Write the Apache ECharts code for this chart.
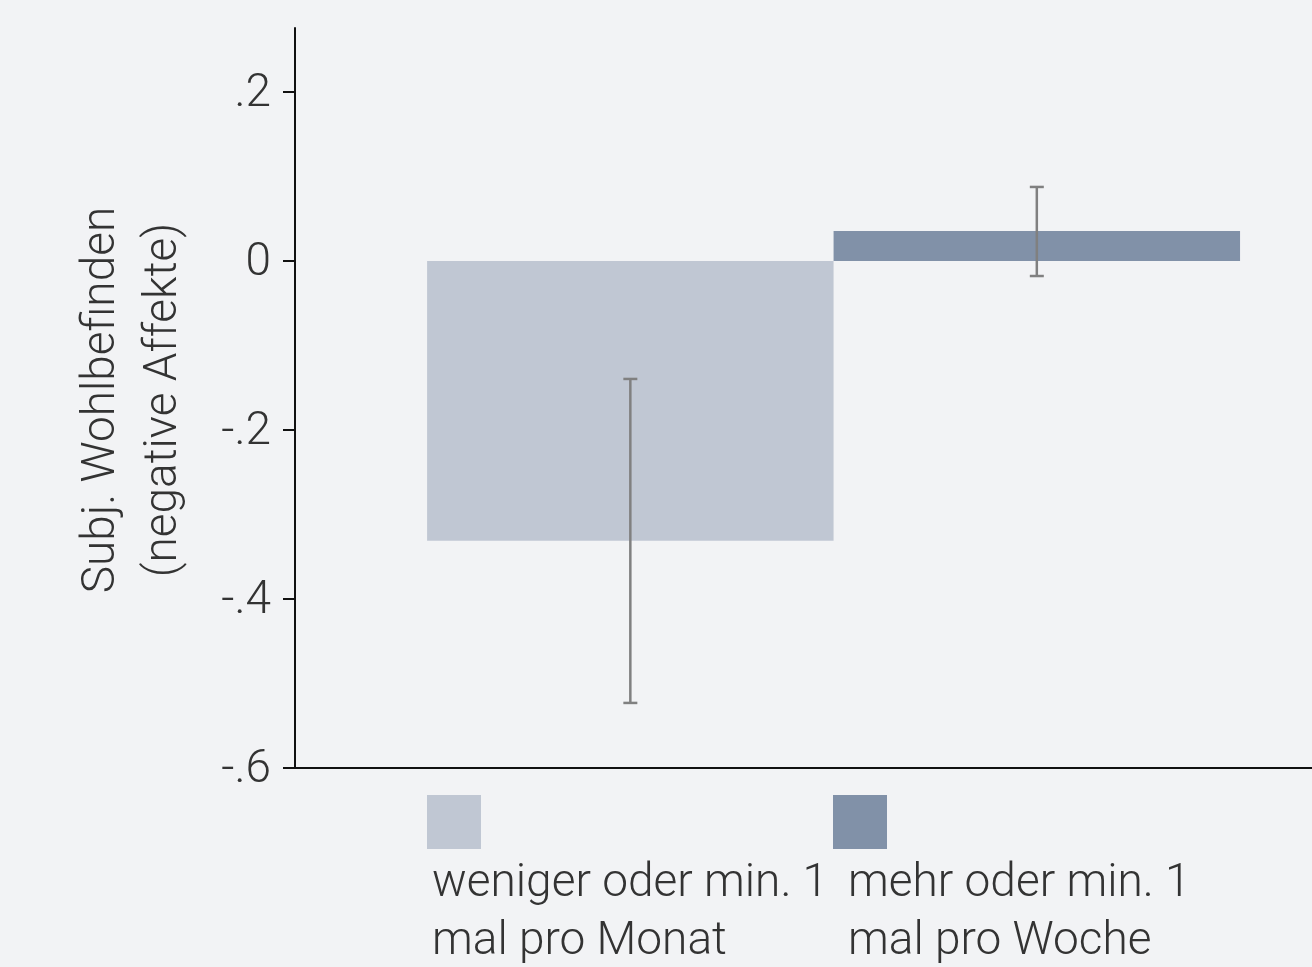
<!DOCTYPE html>
<html>
<head>
<meta charset="utf-8">
<script src="https://cdn.jsdelivr.net/npm/echarts@6/dist/echarts.min.js"></script>
<style>
html,body{margin:0;padding:0;background:#f2f3f5;}
#chart{width:1312px;height:967px;}
</style>
</head>
<body>
<div id="chart"></div>
<script>
var categories = ['weniger oder min. 1\nmal pro Monat', 'mehr oder min. 1\nmal pro Woche'];
var means = [-0.331, 0.0355];
var ciLow = [-0.523, -0.0178];
var ciHigh = [-0.1396, 0.0876];
var barColors = ['#c0c7d3', '#8191a8'];
var yTicks = [-0.6, -0.4, -0.2, 0, 0.2];
var yTitle = 'Subj. Wohlbefinden\n(negative Affekte)';

var FONT = '"Roboto Light", "Lato Light", Roboto, sans-serif';
var TEXT = '#333333';

var chart = echarts.init(document.getElementById('chart'));

var barData = means.map(function (m, i) { return [i, m]; });
var errData = means.map(function (m, i) { return [i, ciLow[i], ciHigh[i]]; });

function fmt(v) {
  if (Math.abs(v) < 1e-9) return '0';
  var s = (Math.round(Math.abs(v) * 10)).toString();
  return (v < 0 ? '-' : '') + '.' + s;
}

var legendGraphics = [];
var swatchX = [427, 833];
var textX = [432, 848];
categories.forEach(function (c, i) {
  legendGraphics.push({
    type: 'rect', left: swatchX[i], top: 795,
    shape: { width: 54, height: 54 },
    style: { fill: barColors[i] }
  });
  legendGraphics.push({
    type: 'text', left: textX[i], top: 853,
    style: {
      text: c, font: '300 46px ' + FONT, fill: TEXT, lineHeight: 58
    }
  });
});
legendGraphics.push({
  type: 'text',
  x: 131, y: 400, rotation: Math.PI / 2,
  style: {
    text: yTitle, font: '300 46px ' + FONT, fill: TEXT,
    align: 'center', verticalAlign: 'middle', lineHeight: 62
  }
});

chart.setOption({
  backgroundColor: '#f2f3f5',
  animation: false,
  grid: { left: 295, top: 28, right: 0, bottom: 199 },
  xAxis: {
    type: 'value', min: -0.325, max: 2.177,
    axisLine: { show: true, onZero: false, lineStyle: { color: '#111', width: 2 } },
    axisTick: { show: false }, axisLabel: { show: false }, splitLine: { show: false }
  },
  yAxis: {
    type: 'value', min: -0.6, max: 0.2757, interval: 0.2,
    axisLine: { show: true, onZero: false, lineStyle: { color: '#111', width: 2 } },
    axisTick: { show: true, length: 12, lineStyle: { color: '#111', width: 2 }, customValues: yTicks },
    axisLabel: {
      customValues: yTicks, formatter: fmt, margin: 24,
      fontFamily: FONT, fontWeight: 300, fontSize: 46, color: TEXT
    },
    splitLine: { show: false }
  },
  series: [
    {
      type: 'custom',
      data: barData,
      renderItem: function (params, api) {
        var i = api.value(0), m = api.value(1);
        var p1 = api.coord([i, m]);
        var p0 = api.coord([i + 1, 0]);
        var x = Math.min(p0[0], p1[0]), y = Math.min(p0[1], p1[1]);
        return {
          type: 'rect',
          shape: { x: x, y: y, width: Math.abs(p0[0] - p1[0]), height: Math.abs(p0[1] - p1[1]) },
          style: { fill: barColors[i] }
        };
      }
    },
    {
      type: 'custom',
      data: errData,
      z: 5,
      renderItem: function (params, api) {
        var i = api.value(0);
        var lo = api.coord([i + 0.5, api.value(1)]);
        var hi = api.coord([i + 0.5, api.value(2)]);
        var cw = 7;
        var st = { stroke: '#808080', lineWidth: 2.5 };
        return {
          type: 'group',
          children: [
            { type: 'line', shape: { x1: lo[0], y1: lo[1], x2: hi[0], y2: hi[1] }, style: st },
            { type: 'line', shape: { x1: lo[0] - cw, y1: lo[1], x2: lo[0] + cw, y2: lo[1] }, style: st },
            { type: 'line', shape: { x1: hi[0] - cw, y1: hi[1], x2: hi[0] + cw, y2: hi[1] }, style: st }
          ]
        };
      }
    }
  ],
  graphic: legendGraphics
});
</script>
</body>
</html>
